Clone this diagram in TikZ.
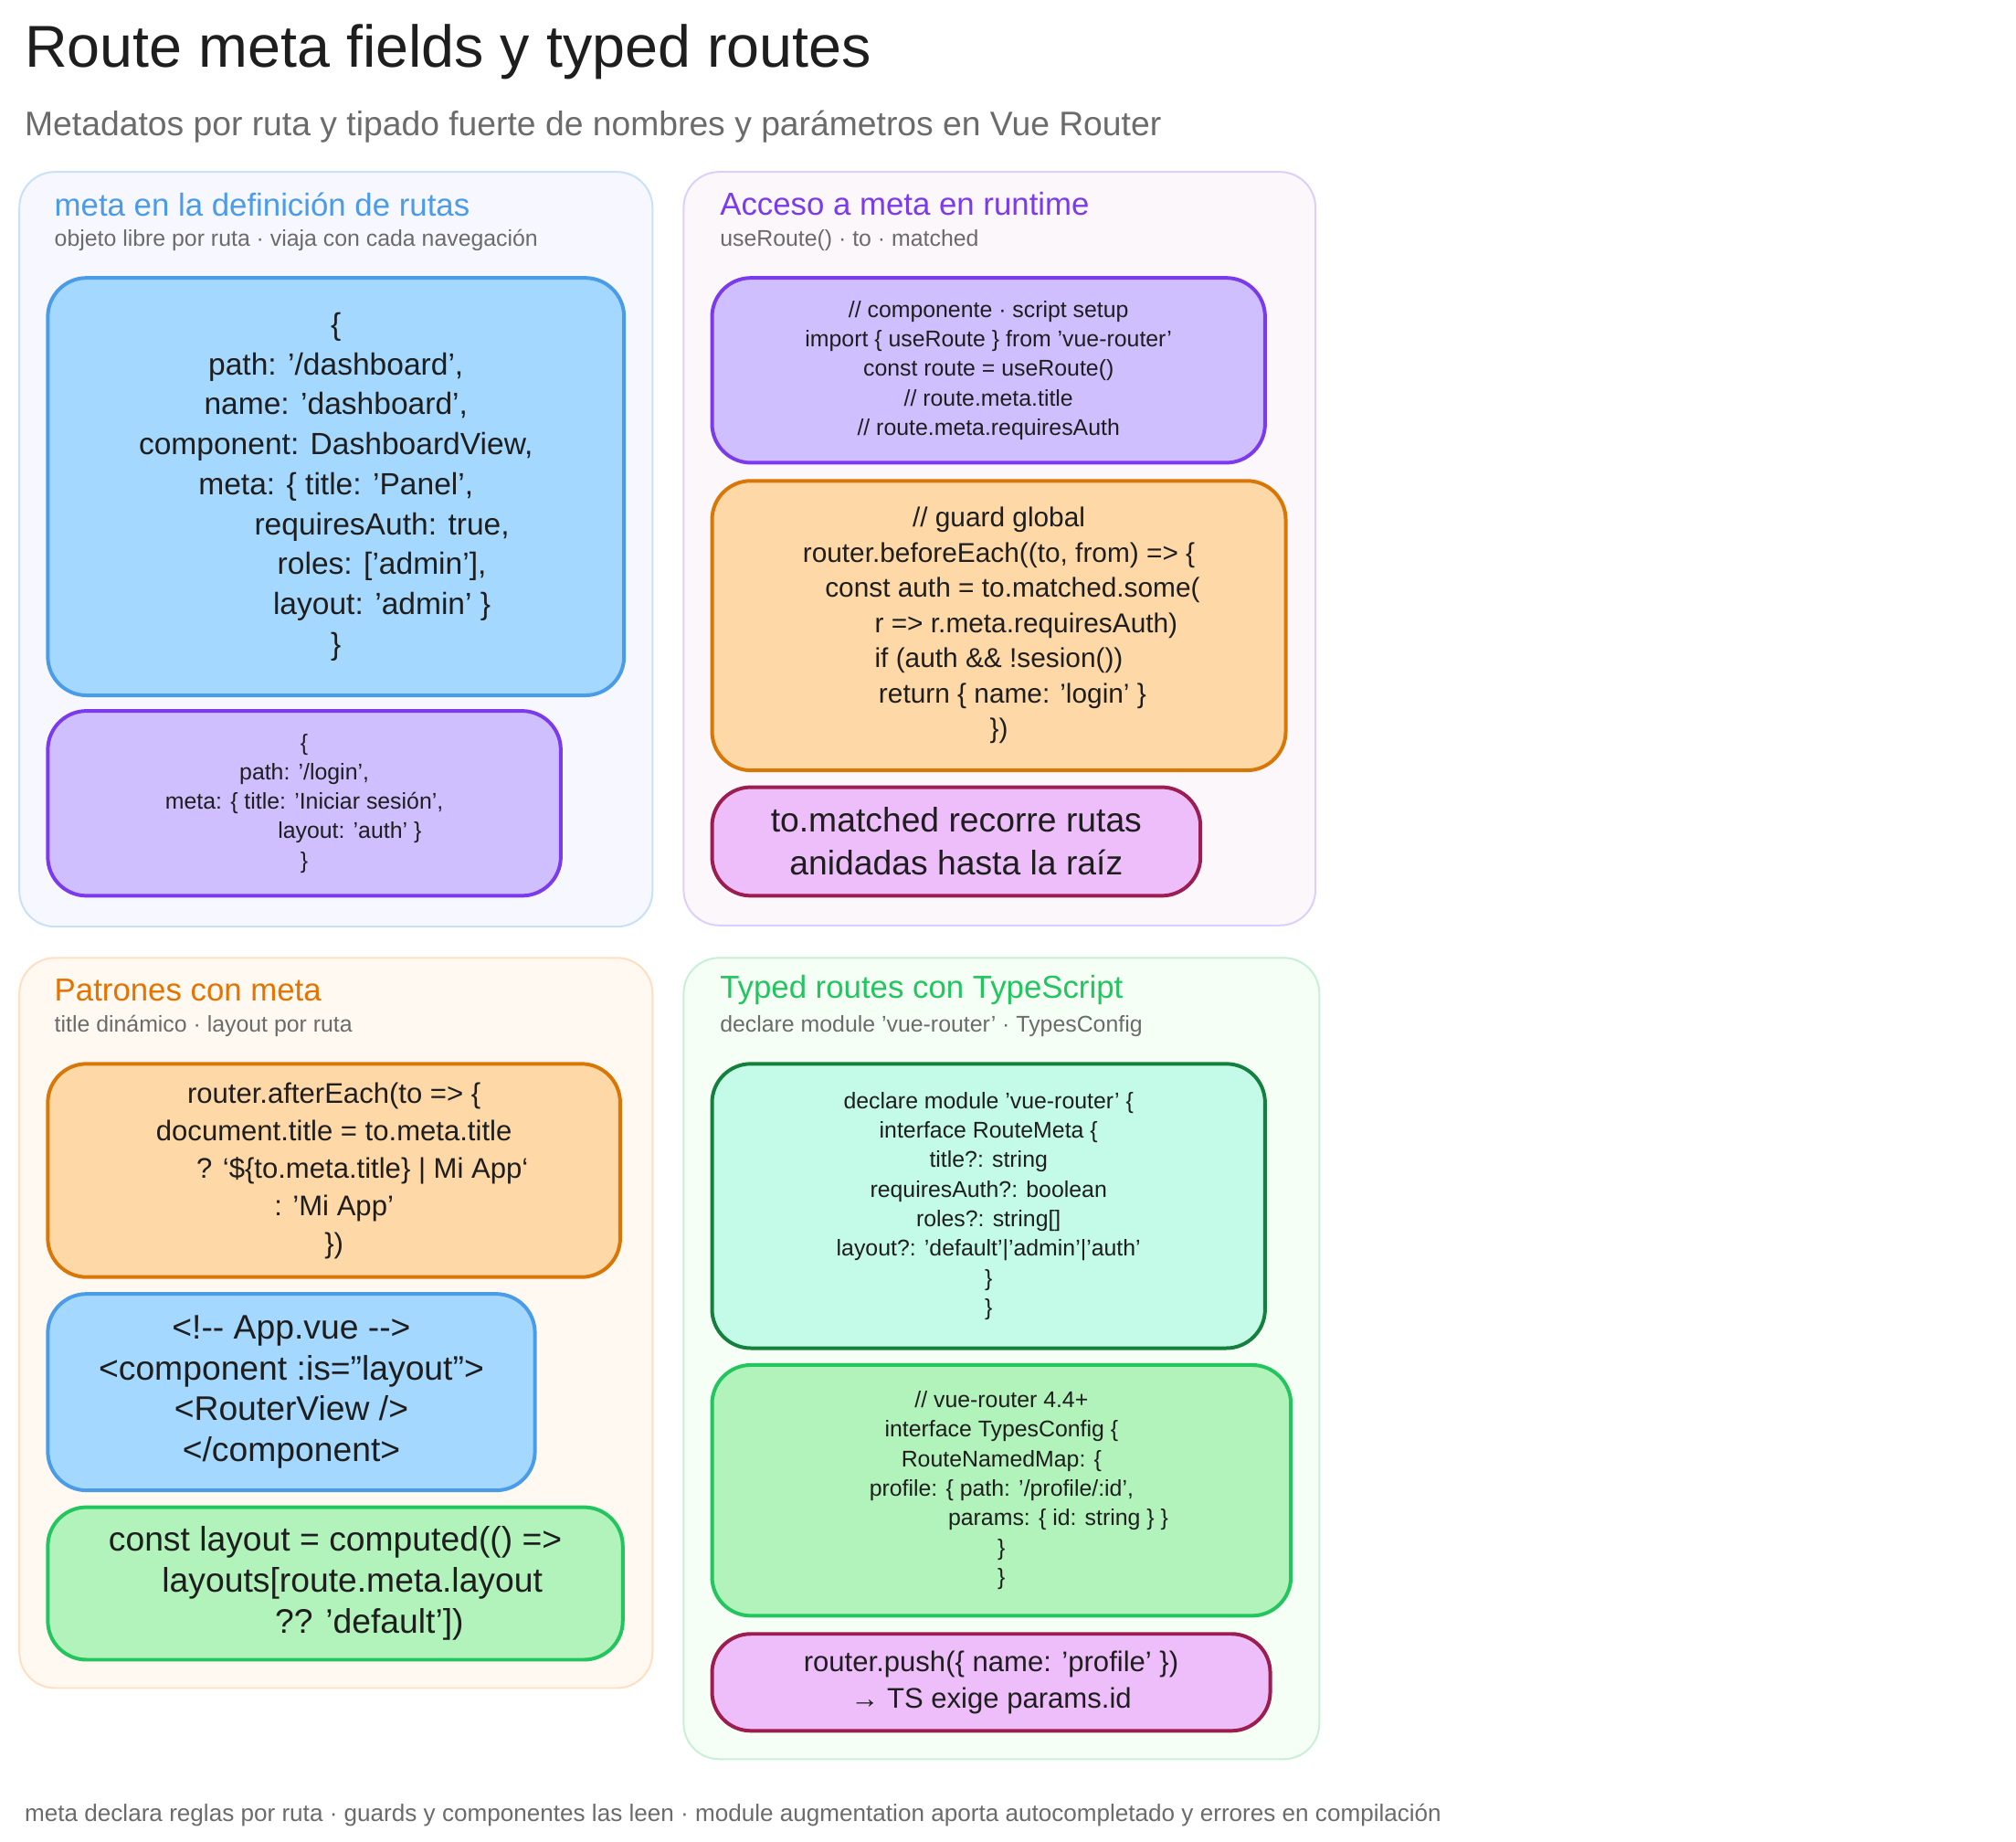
\documentclass[tikz,border=0pt]{standalone}
\usepackage{fontspec}
\setmainfont{Liberation Sans}
\usetikzlibrary{positioning}
\definecolor{cblue}{HTML}{A5D8FF}\definecolor{dblue}{HTML}{4A9BE8}
\definecolor{cviolet}{HTML}{D0BFFF}\definecolor{dviolet}{HTML}{7C3AED}
\definecolor{corange}{HTML}{FFD8A8}\definecolor{dorange}{HTML}{D97706}
\definecolor{cpink}{HTML}{EEBEFA}\definecolor{dpink}{HTML}{9C1D4F}
\definecolor{cgreen}{HTML}{B2F2BB}\definecolor{dgreen}{HTML}{22C55E}
\definecolor{cmint}{HTML}{C3FAE8}\definecolor{dmint}{HTML}{15803D}
\definecolor{ink}{HTML}{1E1E1E}\definecolor{muted}{HTML}{6B6B6B}
\begin{document}
\begin{tikzpicture}[
    x=0.02cm, y=-0.02cm,
    group/.style={rectangle, rounded corners=0.55cm, line width=0.8pt, inner sep=0, outer sep=0, anchor=north west},
    card/.style={rectangle, rounded corners=0.6cm, line width=1.6pt, inner sep=0, outer sep=0, anchor=north west, align=center, text=ink},
    head/.style={anchor=west, font=\fontsize{14}{16}\selectfont},
    sub/.style={anchor=west, text=muted, font=\fontsize{10}{12}\selectfont},
    big/.style={font=\fontsize{13.5}{17.6}\selectfont},
    small/.style={font=\fontsize{10}{13}\selectfont}
]
\useasboundingbox (0,0) rectangle (1560,1425);

\node[anchor=west, text=ink, font=\fontsize{26}{30}\selectfont] (title) at (13,40) {Route meta fields y typed routes};
\node[anchor=west, text=muted, font=\fontsize{15}{18}\selectfont] (subtitle) at (13,98) {Metadatos por ruta y tipado fuerte de nombres y parámetros en Vue Router};

% grupos
\node[group, fill=blue!3, draw=dblue!30, minimum width=9.8cm, minimum height=11.68cm] (gdef) at (15,133) {};
\node[group, fill=violet!3, draw=dviolet!25, minimum width=9.78cm, minimum height=11.66cm] (grun) at (529,133) {};
\node[group, fill=orange!5, draw=orange!25, minimum width=9.8cm, minimum height=11.3cm] (gpat) at (15,741) {};
\node[group, fill=green!4, draw=dgreen!25, minimum width=9.84cm, minimum height=12.4cm] (gtyp) at (529,741) {};

\node[head, text=dblue] (hdef) at (36,158) {meta en la definición de rutas};
\node[sub] (sdef) at (36,186) {objeto libre por ruta · viaja con cada navegación};
\node[head, text=dviolet] (hrun) at (551,158) {Acceso a meta en runtime};
\node[sub] (srun) at (551,186) {useRoute() · to · matched};
\node[head, text=orange!90!black] (hpat) at (36,766) {Patrones con meta};
\node[sub] (spat) at (36,794) {title dinámico · layout por ruta};
\node[head, text=dgreen] (htyp) at (551,766) {Typed routes con TypeScript};
\node[sub] (styp) at (551,794) {declare module 'vue-router' · TypesConfig};

% tarjetas
\node[card, big, fill=cblue, draw=dblue, minimum width=8.92cm, minimum height=6.46cm] (dash) at (37,215)
  {\{\\path: '/dashboard',\\name: 'dashboard',\\component: DashboardView,\\meta: \{ title: 'Panel',\\\hspace*{3em}requiresAuth: true,\\\hspace*{3em}roles: ['admin'],\\\hspace*{3em}layout: 'admin' \}\\\}};
\node[card, small, fill=cviolet, draw=dviolet, minimum width=7.94cm, minimum height=2.86cm] (login) at (37,550)
  {\{\\path: '/login',\\meta: \{ title: 'Iniciar sesión',\\\hspace*{4em}layout: 'auth' \}\\\}};
\node[card, small, fill=cviolet, draw=dviolet, minimum width=8.56cm, minimum height=2.86cm] (useroute) at (551,215)
  {// componente · script setup\\import \{ useRoute \} from 'vue-router'\\const route = useRoute()\\// route.meta.title\\// route.meta.requiresAuth};
\node[card, font=\fontsize{12}{15.5}\selectfont, fill=corange, draw=dorange, minimum width=8.88cm, minimum height=4.48cm] (guard) at (551,372)
  {// guard global\\router.beforeEach((to, from) => \{\\\hspace*{1em}const auth = to.matched.some(\\\hspace*{2em}r => r.meta.requiresAuth)\\if (auth \&\& !sesion())\\\hspace*{1em}return \{ name: 'login' \}\\\})};
\node[card, font=\fontsize{15}{19}\selectfont, fill=cpink, draw=dpink, minimum width=7.56cm, minimum height=1.68cm] (matched) at (551,609)
  {to.matched recorre rutas\\anidadas hasta la raíz};
\node[card, font=\fontsize{12.5}{16.5}\selectfont, fill=corange, draw=dorange, minimum width=8.86cm, minimum height=3.3cm] (after) at (37,823)
  {router.afterEach(to => \{\\document.title = to.meta.title\\\hspace*{2em}? `\$\{to.meta.title\} | Mi App`\\: 'Mi App'\\\})};
\node[card, font=\fontsize{15}{18}\selectfont, fill=cblue, draw=dblue, minimum width=7.54cm, minimum height=3.04cm] (appvue) at (37,1001)
  {<!-{}- App.vue -{}->\\<component :is="layout">\\<RouterView />\\</component>};
\node[card, font=\fontsize{15}{18}\selectfont, fill=cgreen, draw=dgreen, minimum width=8.9cm, minimum height=2.36cm] (layout) at (37,1166)
  {const layout = computed(() =>\\\hspace*{1em}layouts[route.meta.layout\\\hspace*{2em}?? 'default'])};
\node[card, small, fill=cmint, draw=dmint, minimum width=8.56cm, minimum height=4.4cm] (routemeta) at (551,823)
  {declare module 'vue-router' \{\\interface RouteMeta \{\\title?: string\\requiresAuth?: boolean\\roles?: string[]\\layout?: 'default'|'admin'|'auth'\\\}\\\}};
\node[card, small, fill=cgreen, draw=dgreen, minimum width=8.96cm, minimum height=3.88cm] (typescfg) at (551,1056)
  {// vue-router 4.4+\\interface TypesConfig \{\\RouteNamedMap: \{\\profile: \{ path: '/profile/:id',\\\hspace*{5em}params: \{ id: string \} \}\\\}\\\}};
\node[card, font=\fontsize{12.5}{16}\selectfont, fill=cpink, draw=dpink, minimum width=8.64cm, minimum height=1.5cm] (push) at (551,1264)
  {router.push(\{ name: 'profile' \})\\→ TS exige params.id};

\node[anchor=west, text=muted, font=\fontsize{10.5}{12}\selectfont] (footer) at (13,1404)
  {meta declara reglas por ruta · guards y componentes las leen · module augmentation aporta autocompletado y errores en compilación};
\end{tikzpicture}
\end{document}
